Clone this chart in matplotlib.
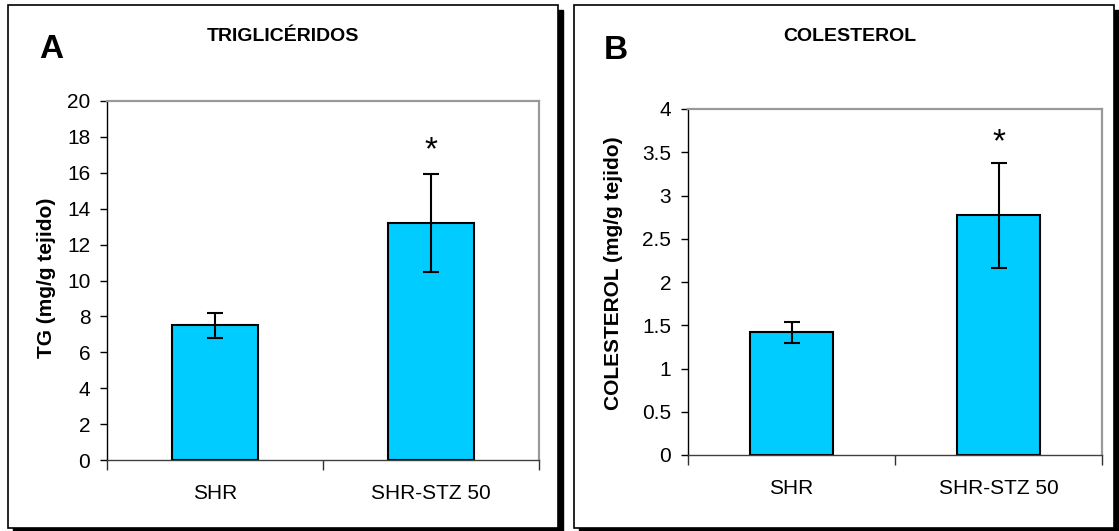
import matplotlib
matplotlib.use("Agg")
from matplotlib import pyplot as plt
from matplotlib.patches import Rectangle

plt.rcParams['font.family'] = ['Liberation Sans', 'DejaVu Sans']

# data
groups = ['SHR', 'SHR-STZ 50']

tg_mean = [7.5, 13.2]
tg_err = [0.7, 2.75]
tg_ticks = [0, 2, 4, 6, 8, 10, 12, 14, 16, 18, 20]

col_mean = [1.42, 2.77]
col_err = [0.12, 0.61]
col_ticks = [0, 0.5, 1, 1.5, 2, 2.5, 3, 3.5, 4]
col_tick_labels = ['0', '0.5', '1', '1.5', '2', '2.5', '3', '3.5', '4']

W, H = 1119, 531
BAR_COLOR = '#00CCFF'

fig = plt.figure(figsize=(W / 100, H / 100), dpi=100)


def px_box(x0, y0, x1, y1):
    # pixel box (top-left origin) -> figure fraction rect
    return [x0 / W, 1 - y1 / H, (x1 - x0) / W, (y1 - y0) / H]


def panel_frame(x0, y0, x1, y1):
    # drop shadow then white framed box
    sx, sy, sw, sh = px_box(x0 + 5, y0 + 5, x1 + 5, y1 + 5)
    fig.patches.append(Rectangle((sx, sy), sw, sh, transform=fig.transFigure,
                                 facecolor='black', edgecolor='black', zorder=0))
    bx, by, bw, bh = px_box(x0, y0, x1, y1)
    fig.patches.append(Rectangle((bx, by), bw, bh, transform=fig.transFigure,
                                 facecolor='white', edgecolor='black', lw=1.2, zorder=1))


def bar_panel(rect, means, errs, ticks, tick_labels, ylabel, star_off):
    ax = fig.add_axes(px_box(*rect))
    ax.set_zorder(2)
    x = list(range(len(groups)))
    ax.bar(x, means, width=0.4, color=BAR_COLOR, edgecolor='black', linewidth=1.5, zorder=2)
    ax.errorbar(x, means, yerr=errs, fmt='none', ecolor='black', elinewidth=1.5,
                capsize=6, capthick=1.5, zorder=3)
    # significance mark over the second group
    ax.text(x[1], means[1] + errs[1] + star_off, '*', ha='center', va='center',
            fontsize=24, zorder=4)

    ax.set_xlim(-0.5, len(groups) - 0.5)
    ax.set_ylim(ticks[0], ticks[-1])
    ax.set_yticks(ticks)
    ax.set_yticklabels(tick_labels, fontsize=15)
    ax.set_xticks(x)
    ax.set_xticklabels(groups, fontsize=15)
    ax.set_xticks([i - 0.5 for i in range(len(groups) + 1)], minor=True)
    ax.tick_params(axis='x', which='major', length=0, pad=17)
    ax.tick_params(axis='x', which='minor', length=7, width=1, color='#303030', direction='out')
    ax.tick_params(axis='y', length=5, width=1, direction='out', pad=7)

    ax.spines['left'].set_color('black')
    ax.spines['bottom'].set_color('#404040')
    for s in ['top', 'right']:
        ax.spines[s].set_color('#999999')
        ax.spines[s].set_linewidth(1.6)
    for s in ['left', 'bottom']:
        ax.spines[s].set_linewidth(1.0)

    ax.set_ylabel(ylabel, fontsize=15, fontweight='bold', va='center')
    return ax


panel_frame(8, 5, 558, 528)
panel_frame(574, 5, 1114, 528)

ax1 = bar_panel((107, 101, 539, 460), tg_mean, tg_err, tg_ticks,
                [str(t) for t in tg_ticks], 'TG (mg/g tejido)', 1.27)
ax1.yaxis.set_label_coords(-0.141, 0.507)

ax2 = bar_panel((688, 109, 1102, 455), col_mean, col_err, col_ticks,
                col_tick_labels, 'COLESTEROL (mg/g tejido)', 0.23)
ax2.yaxis.set_label_coords(-0.181, 0.5246)

fig.text(282.5 / W, 1 - 41 / H, 'TRIGLICÉRIDOS', ha='center', va='baseline',
         fontsize=14, fontweight='bold', zorder=5)
fig.text(850 / W, 1 - 41 / H, 'COLESTEROL', ha='center', va='baseline',
         fontsize=14, fontweight='bold', zorder=5)
fig.text(39 / W, 1 - 58.5 / H, 'A', ha='left', va='baseline',
         fontsize=24, fontweight='bold', zorder=5)
fig.text(604 / W, 1 - 59 / H, 'B', ha='left', va='baseline',
         fontsize=24, fontweight='bold', zorder=5)

fig.savefig('out.png', dpi=100)
